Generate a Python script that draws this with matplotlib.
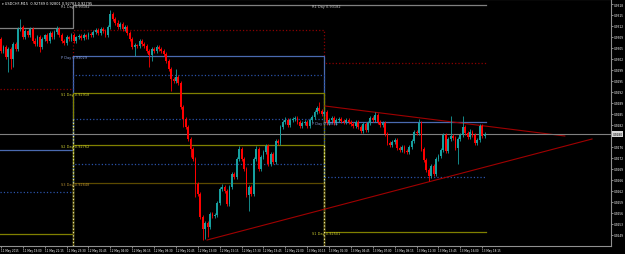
import numpy as np
import pandas as pd
import matplotlib
matplotlib.use("Agg")
import matplotlib.pyplot as plt

# USDCHF M15, prices in points (1e-5)
first_open = 93080
close_pts = [
    93044, 93056, 93026, 93050, 93020, 93065, 93050, 93110, 93116, 93086,
    93104, 93092, 93110, 93074, 93065, 93086, 93056, 93080, 93092, 93074,
    93098, 93086, 93101, 93110, 93092, 93074, 93068, 93086, 93080, 93092,
    93074, 93086, 93089, 93083, 93092, 93086, 93095, 93092, 93101, 93107,
    93098, 93110, 93104, 93092, 93116, 93155, 93140, 93128, 93116, 93125,
    93110, 93116, 93098, 93080, 93056, 93062, 93059, 93074, 93065, 93059,
    93044, 93032, 93050, 93044, 93056, 93050, 93044, 93035, 93014, 92990,
    92960, 92954, 92966, 92948, 92876, 92840, 92816, 92780, 92750, 92720,
    92645, 92615, 92546, 92510, 92528, 92516, 92555, 92549, 92552, 92588,
    92630, 92636, 92624, 92585, 92636, 92675, 92666, 92720, 92750, 92720,
    92690, 92612, 92636, 92615, 92720, 92750, 92690, 92726, 92741, 92759,
    92705, 92735, 92711, 92774, 92768, 92816, 92831, 92837, 92822, 92837,
    92840, 92843, 92831, 92819, 92828, 92831, 92819, 92837, 92846, 92861,
    92873, 92864, 92855, 92861, 92828, 92837, 92843, 92828, 92837, 92840,
    92834, 92831, 92837, 92831, 92825, 92819, 92831, 92816, 92804, 92825,
    92807, 92828, 92843, 92837, 92852, 92831, 92822, 92828, 92795, 92768,
    92762, 92771, 92777, 92753, 92747, 92756, 92744, 92741, 92756, 92774,
    92801, 92798, 92828, 92750, 92717, 92687, 92669, 92699, 92675, 92720,
    92729, 92747, 92792, 92744, 92780, 92789, 92783, 92753, 92780, 92792,
    92816, 92798, 92786, 92801, 92792, 92768, 92777, 92819, 92789, 92795,
]
upper_wick = [
    6, 6, 6, 6, 6, 6, 6, 6, 24, 6,
    6, 3, 6, 6, 9, 6, 6, 6, 3, 6,
    6, 6, 6, 9, 6, 6, 6, 6, 3, 6,
    6, 3, 6, 6, 6, 3, 6, 6, 6, 6,
    6, 6, 6, 6, 6, 12, 6, 6, 9, 6,
    6, 6, 6, 6, 6, 6, 3, 6, 6, 6,
    6, 6, 6, 6, 6, 6, 6, 6, 6, 6,
    6, 6, 24, 6, 6, 6, 6, 6, 6, 6,
    6, 6, 6, 6, 6, 6, 6, 6, 6, 6,
    6, 9, 6, 6, 6, 6, 6, 6, 9, 6,
    6, 6, 6, 6, 6, 9, 6, 6, 6, 6,
    6, 6, 6, 6, 6, 6, 6, 9, 6, 6,
    6, 6, 6, 6, 6, 6, 6, 6, 6, 6,
    6, 18, 6, 6, 6, 6, 6, 6, 6, 6,
    6, 6, 6, 6, 6, 6, 6, 6, 6, 6,
    6, 6, 6, 6, 9, 6, 6, 6, 6, 6,
    6, 6, 6, 6, 6, 6, 6, 6, 6, 6,
    6, 6, 12, 6, 6, 6, 6, 6, 6, 6,
    6, 6, 6, 6, 6, 60, 6, 6, 6, 6,
    33, 6, 6, 9, 6, 6, 6, 6, 6, 6,
]
lower_wick = [
    6, 6, 6, 45, 30, 24, 6, 6, 6, 6,
    6, 6, 6, 6, 6, 6, 15, 6, 6, 6,
    6, 6, 6, 6, 6, 6, 6, 6, 6, 6,
    6, 6, 6, 6, 6, 6, 6, 6, 6, 6,
    6, 6, 6, 6, 6, 6, 6, 6, 6, 6,
    6, 6, 6, 6, 6, 27, 6, 6, 6, 6,
    6, 36, 18, 6, 6, 6, 6, 6, 6, 6,
    36, 6, 6, 6, 6, 24, 6, 6, 24, 6,
    39, 6, 6, 33, 30, 30, 6, 6, 6, 6,
    6, 6, 6, 6, 6, 6, 6, 6, 6, 6,
    6, 6, 48, 6, 6, 6, 6, 6, 6, 6,
    6, 6, 6, 6, 6, 6, 6, 6, 6, 6,
    6, 6, 6, 6, 6, 6, 6, 6, 6, 6,
    6, 6, 6, 6, 6, 6, 6, 6, 6, 6,
    6, 6, 6, 6, 6, 6, 6, 6, 6, 6,
    6, 6, 6, 6, 6, 6, 6, 6, 6, 6,
    6, 6, 6, 6, 6, 6, 6, 6, 6, 6,
    6, 6, 6, 6, 6, 6, 15, 6, 6, 6,
    6, 6, 6, 6, 6, 6, 6, 6, 48, 6,
    6, 6, 6, 6, 6, 6, 6, 6, 6, 6,
]

# daily pivots, three days (values below the window are off chart)
day_start = [0, 29.5, 132.8]
r1 = [93113, 93182, 93182]
m3 = [92930, 93107, 93008]
pp = [92747, 93029, 92831]
m2 = [92621, 92972, 92666]
s1 = [92495, 92918, 92501]
m1 = [92380, 92840, 92400]
s2 = [92260, 92762, 92300]
m0 = [92150, 92705, 92200]
s3 = [92040, 92648, 92100]

# trend lines (bar, points)
upper_trend = [(133.3, 92879), (232.0, 92789)]
lower_trend = [(84.8, 92477), (243.2, 92780)]

start_time = "2015-05-11 16:45"

o = np.array([first_open] + close_pts[:-1]) / 1e5
c = np.array(close_pts) / 1e5
hi = np.maximum(o, c) + np.array(upper_wick) / 1e5
lo = np.minimum(o, c) - np.array(lower_wick) / 1e5
n = len(c)
x = np.arange(n)

bull = "#17a0a0"
bear = "#ff0000"
cols = [bull if cc > oo else bear for oo, cc in zip(o, c)]

fig = plt.figure(figsize=(6.25, 2.55), dpi=100, facecolor="black")
ax = fig.add_axes([0, 8.5 / 255, 611 / 625, 246.5 / 255])
ax.set_facecolor("black")

x_end = n - 0.5
y_lo, y_hi = 0.924605, 0.93200
ax.set_xlim(-0.41, 251.0)
ax.set_ylim(y_lo, y_hi)

# pivot lines
levels = [
    (r1, "#808080", "-"),
    (m3, "#8b0000", ":"),
    (pp, "#4a6ab0", "-"),
    (m2, "#2a52a8", ":"),
    (s1, "#808000", "-"),
    (m1, "#2a52a8", ":"),
    (s2, "#808000", "-"),
    (m0, "#2a52a8", ":"),
    (s3, "#5c4a00", "-"),
]
edges = [-0.5] + day_start[1:] + [x_end]
for vals, col, ls in levels:
    xs, ys = [], []
    for d in range(3):
        xs += [edges[d], edges[d + 1]]
        ys += [vals[d] / 1e5, vals[d] / 1e5]
    ax.plot(xs, ys, color=col, ls=ls, lw=0.9, zorder=1)

# day change marker
ax.vlines(day_start[1], y_lo, m1[1] / 1e5, colors="#e8e8a0", linestyles=":", lw=0.9, zorder=1)
ax.vlines(day_start[2], y_lo, s2[1] / 1e5, colors="#e8e8a0", linestyles=":", lw=0.9, zorder=1)

labels = [("R1", r1, "#c8c8c8"), ("P", pp, "#8aa0e0"), ("S1", s1, "#c8c830"),
          ("S2", s2, "#c8c830"), ("S3", s3, "#b08a30")]
for name, vals, col in labels:
    for d in (1, 2):
        v = vals[d] / 1e5
        if 0.92480 < v < y_hi:
            ax.text(day_start[d] - 5, v + 0.00002, f"{name} Day {v:.5f}", color=col,
                    fontsize=2.5, va="top", ha="left", zorder=4)

# trend lines
for tl in (upper_trend, lower_trend):
    ax.plot([p[0] for p in tl], [p[1] / 1e5 for p in tl], color="#a00000", lw=0.8, zorder=2)

# candles
ax.vlines(x, lo, hi, colors=cols, lw=0.6, zorder=3)
ax.bar(x, np.maximum(np.abs(c - o), 0.000015), bottom=np.minimum(o, c), width=0.75,
       color=cols, linewidth=0, zorder=3)

# bid line
bid = c[-1]
ax.axhline(bid, color="#808080", lw=0.8, zorder=2)
ax.annotate(f"{bid:.4f}", xy=(1.0, bid), xycoords=("axes fraction", "data"),
            xytext=(1, 0), textcoords="offset points", fontsize=2.1, color="black",
            va="center", ha="left", annotation_clip=False,
            bbox=dict(boxstyle="square,pad=0.2", fc="#d8d8d8", ec="none"))

# axes
ax.yaxis.tick_right()
yt = np.arange(93185, 92480, -33) / 1e5
yt = yt[np.abs(yt - bid) > 0.00012]
ax.set_yticks(yt)
ax.set_yticklabels([f"{v:.4f}" for v in yt])
times = pd.date_range(start_time, periods=n, freq="15min")
xt = np.arange(0, n, 9)
ax.set_xticks(xt)
xl = [times[0].strftime("%-d %b %Y")] + [times[i].strftime("%-d %b %H:%M") for i in xt[1:]]
ax.set_xticklabels(xl, ha="left")
ax.tick_params(colors="#c0c0c0", length=1.2, width=0.5, pad=0.6)
ax.tick_params(axis="x", labelcolor="white", labelsize=2.0)
ax.tick_params(axis="y", labelcolor="white", labelsize=2.1)
ax.spines["left"].set_visible(False)
for s in ("top", "right", "bottom"):
    ax.spines[s].set_color("#909090")
    ax.spines[s].set_linewidth(0.8)

fig.text(2 / 625, 1 - 4 / 255,
         f"\u25be USDCHF,M15  {o[-1]:.5f} {hi[-1]:.5f} {lo[-1]:.5f} {c[-1]:.5f}",
         color="white", fontsize=2.5, va="center", ha="left")

fig.savefig("out.png", dpi=100, facecolor="black")
